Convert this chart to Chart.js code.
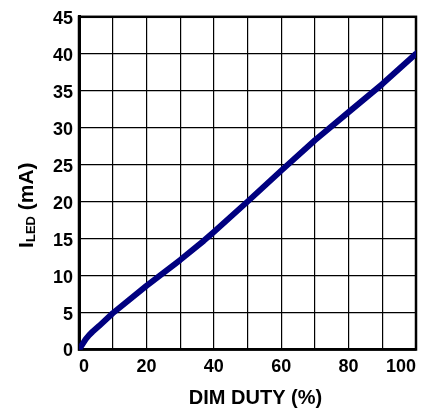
<!DOCTYPE html>
<html>
<head>
<meta charset="utf-8">
<script src="https://cdn.jsdelivr.net/npm/chart.js@4"></script>
<style>
    html, body { margin: 0; padding: 0; background: #fff; }
    #wrap { width: 425px; height: 414px; }
</style>
</head>
<body>
<div id="wrap"><canvas id="chart"></canvas></div>
<script>
// Data
const dutyPct = [0, 1, 2, 3, 4, 6, 10, 20, 30, 37, 40, 50, 60, 70, 80, 90, 100];
const ledCurrent = [0, 0.7, 1.4, 1.95, 2.4, 3.2, 4.9, 8.6, 12.1, 14.7, 15.9, 20.0, 24.2, 28.3, 32.1, 35.9, 40];
const xLabelStep = 20;
const xGridStep = 10;
const yStep = 5;
const xTitle = 'DIM DUTY (%)';
const yTitleMain = 'I';
const yTitleSub = 'LED';
const yTitleRest = ' (mA)';

const FONT = '"Liberation Sans", Arial, sans-serif';

const points = dutyPct.map((d, i) => ({ x: d, y: ledCurrent[i] }));
const endRadius = dutyPct.map((d, i) => (i === 0 || i === dutyPct.length - 1) ? 4 : 0);

// frame around the plot (top / right edges too)
const framePlugin = {
    id: 'frame',
    beforeDatasetsDraw(chart) {
        const a = chart.chartArea;
        const ctx = chart.ctx;
        ctx.save();
        ctx.strokeStyle = '#000';
        ctx.lineWidth = 2.5;
        ctx.strokeRect(a.left, a.top, a.right - a.left, a.bottom - a.top);
        ctx.restore();
    }
};

// axis titles, y one has a subscript
const titlePlugin = {
    id: 'titles',
    afterDraw(chart) {
        const a = chart.chartArea;
        const ctx = chart.ctx;
        ctx.save();
        ctx.fillStyle = '#000';
        ctx.textBaseline = 'alphabetic';

        ctx.font = 'bold 20px ' + FONT;
        ctx.textAlign = 'center';
        ctx.fillText(xTitle, (a.left + a.right) / 2 + 8, 404);

        const mainFont = 'bold 21px ' + FONT;
        const subFont = 'bold 13px ' + FONT;
        ctx.font = mainFont;
        const w1 = ctx.measureText(yTitleMain).width;
        const w3 = ctx.measureText(yTitleRest).width;
        ctx.font = subFont;
        const w2 = ctx.measureText(yTitleSub).width;
        const total = w1 + w2 + w3;

        ctx.translate(33, (a.top + a.bottom) / 2 + 22);
        ctx.rotate(-Math.PI / 2);
        ctx.textAlign = 'left';
        let x = -total / 2;
        ctx.font = mainFont;
        ctx.fillText(yTitleMain, x, 0);
        x += w1;
        ctx.font = subFont;
        ctx.fillText(yTitleSub, x, 2);
        x += w2;
        ctx.font = mainFont;
        ctx.fillText(yTitleRest, x, 0);
        ctx.restore();
    }
};

const ctx = document.getElementById('chart').getContext('2d');
new Chart(ctx, {
    type: 'scatter',
    data: {
        datasets: [{
            data: points,
            showLine: true,
            borderColor: '#000080',
            backgroundColor: '#000080',
            borderWidth: 6,
            borderJoinStyle: 'round',
            tension: 0,
            pointStyle: 'rectRot',
            pointRadius: endRadius,
            pointBorderWidth: 0
        }]
    },
    options: {
        responsive: true,
        maintainAspectRatio: false,
        animation: false,
        layout: { padding: { top: 14, right: 9, left: 0, bottom: 0 } },
        plugins: {
            legend: { display: false },
            tooltip: { enabled: false }
        },
        scales: {
            x: {
                type: 'linear',
                min: 0,
                max: 100,
                afterFit: s => { s.height = 64.5; },
                grid: { color: '#000', lineWidth: 1.2, drawTicks: false },
                border: { display: true, color: '#000', width: 2.5 },
                ticks: {
                    stepSize: xGridStep,
                    autoSkip: false,
                    maxRotation: 0,
                    align: 'inner',
                    padding: 7,
                    color: '#000',
                    font: { family: FONT, size: 18, weight: 'bold' },
                    callback: v => (v % xLabelStep === 0 ? v : '')
                }
            },
            y: {
                min: 0,
                max: 45,
                afterFit: s => { s.width = 79; },
                grid: { color: '#000', lineWidth: 1.2, drawTicks: false },
                border: { display: true, color: '#000', width: 3 },
                ticks: {
                    stepSize: yStep,
                    padding: 6,
                    labelOffset: 2,
                    color: '#000',
                    font: { family: FONT, size: 18, weight: 'bold' }
                }
            }
        }
    },
    plugins: [framePlugin, titlePlugin]
});
</script>
</body>
</html>
